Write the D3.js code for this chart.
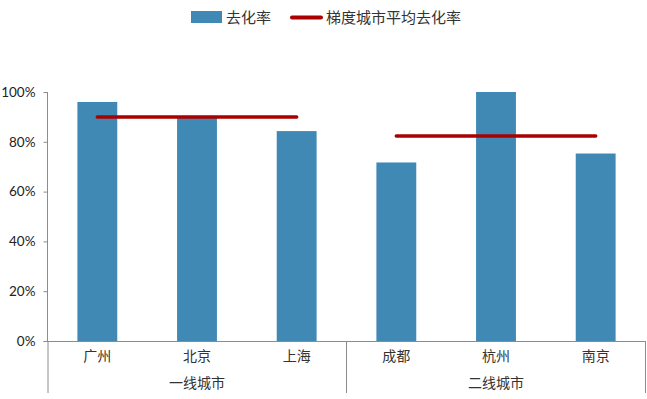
<!DOCTYPE html>
<html><head><meta charset="utf-8">
<script src="https://cdn.jsdelivr.net/npm/d3@7"></script>
<style>body{margin:0;background:#fff}</style>
</head><body>
<svg id="c" width="647" height="399"></svg>
<script>
const cities = ["广州","北京","上海","成都","杭州","南京"];
const rates = [0.96, 0.90, 0.843, 0.717, 1.00, 0.753];
const groups = ["一线城市","二线城市"];
const groupMembers = [["广州","北京","上海"],["成都","杭州","南京"]];
const groupAvg = [0.90, 0.823];
const yTicks = [0,0.2,0.4,0.6,0.8,1.0];
const legendLabels = ["去化率","梯度城市平均去化率"];

const svg = d3.select("#c");
const L=47.5, R=645.5, T=92, B=341;
const x = d3.scaleBand().domain(cities).range([L,R]).paddingInner(0.6).paddingOuter(0.3);
const xb = d3.scaleBand().domain(cities).range([L,R]);
const y = d3.scaleLinear().domain([0,1]).range([B,T]);
const cjk = "'Noto Sans CJK SC', sans-serif";
const axisColor = "#8c8c8c";

// bars
svg.selectAll("rect.bar").data(cities).join("rect")
  .attr("x", d=>x(d)).attr("width", x.bandwidth())
  .attr("y", (d,i)=>y(rates[i])).attr("height",(d,i)=>B-y(rates[i]))
  .attr("fill","#4189B5");

// y axis
const ya = svg.append("g").attr("transform",`translate(${L},0)`)
  .call(d3.axisLeft(y).tickValues(yTicks).tickFormat(d3.format(".0%")).tickSize(4).tickPadding(8));
ya.select(".domain").attr("stroke",axisColor).attr("d",`M0,${T}V${B}`);
ya.selectAll(".tick line").attr("stroke",axisColor);
ya.selectAll(".tick text").attr("fill","#222").style("font-family","Lato, 'Open Sans', sans-serif").style("font-size","13.5px");

// x axis line
svg.append("line").attr("x1",L-4).attr("x2",R).attr("y1",B+0.5).attr("y2",B+0.5).attr("stroke",axisColor);
// group separators
const bounds = [L, xb(groupMembers[1][0]), R];
bounds.forEach(b=>{
  svg.append("line").attr("x1",Math.round(b)-0.5+ (b===L?0.5:0)).attr("x2",Math.round(b)-0.5+(b===L?0.5:0))
    .attr("y1",B).attr("y2",393).attr("stroke",axisColor);
});
// category labels
svg.selectAll("text.cat").data(cities).join("text")
  .attr("x", d=>xb(d)+xb.bandwidth()/2).attr("y",361)
  .attr("text-anchor","middle").attr("fill","#333")
  .style("font-family",cjk).style("font-size","14px").text(d=>d);
// group labels
groups.forEach((g,i)=>{
  const m = groupMembers[i];
  const cx = (xb(m[0]) + xb(m[m.length-1]) + xb.bandwidth())/2;
  svg.append("text").attr("x",cx).attr("y",388).attr("text-anchor","middle").attr("fill","#333")
    .style("font-family",cjk).style("font-size","14px").text(g);
});

// average lines
groupAvg.forEach((v,i)=>{
  const m = groupMembers[i];
  svg.append("line")
    .attr("x1", x(m[0])+x.bandwidth()/2).attr("x2", x(m[m.length-1])+x.bandwidth()/2)
    .attr("y1", y(v)).attr("y2", y(v))
    .attr("stroke","#AA0000").attr("stroke-width",3.5).attr("stroke-linecap","round");
});

// legend
const lg = svg.append("g");
lg.append("rect").attr("x",191).attr("y",11).attr("width",31).attr("height",12).attr("fill","#4189B5");
lg.append("text").attr("x",226).attr("y",23).attr("fill","#333").style("font-family",cjk).style("font-size","15px").text(legendLabels[0]);
lg.append("line").attr("x1",292).attr("x2",321).attr("y1",17.5).attr("y2",17.5)
  .attr("stroke","#AA0000").attr("stroke-width",4).attr("stroke-linecap","round");
lg.append("text").attr("x",326).attr("y",23).attr("fill","#333").style("font-family",cjk).style("font-size","15px").text(legendLabels[1]);
</script>
</body></html>
